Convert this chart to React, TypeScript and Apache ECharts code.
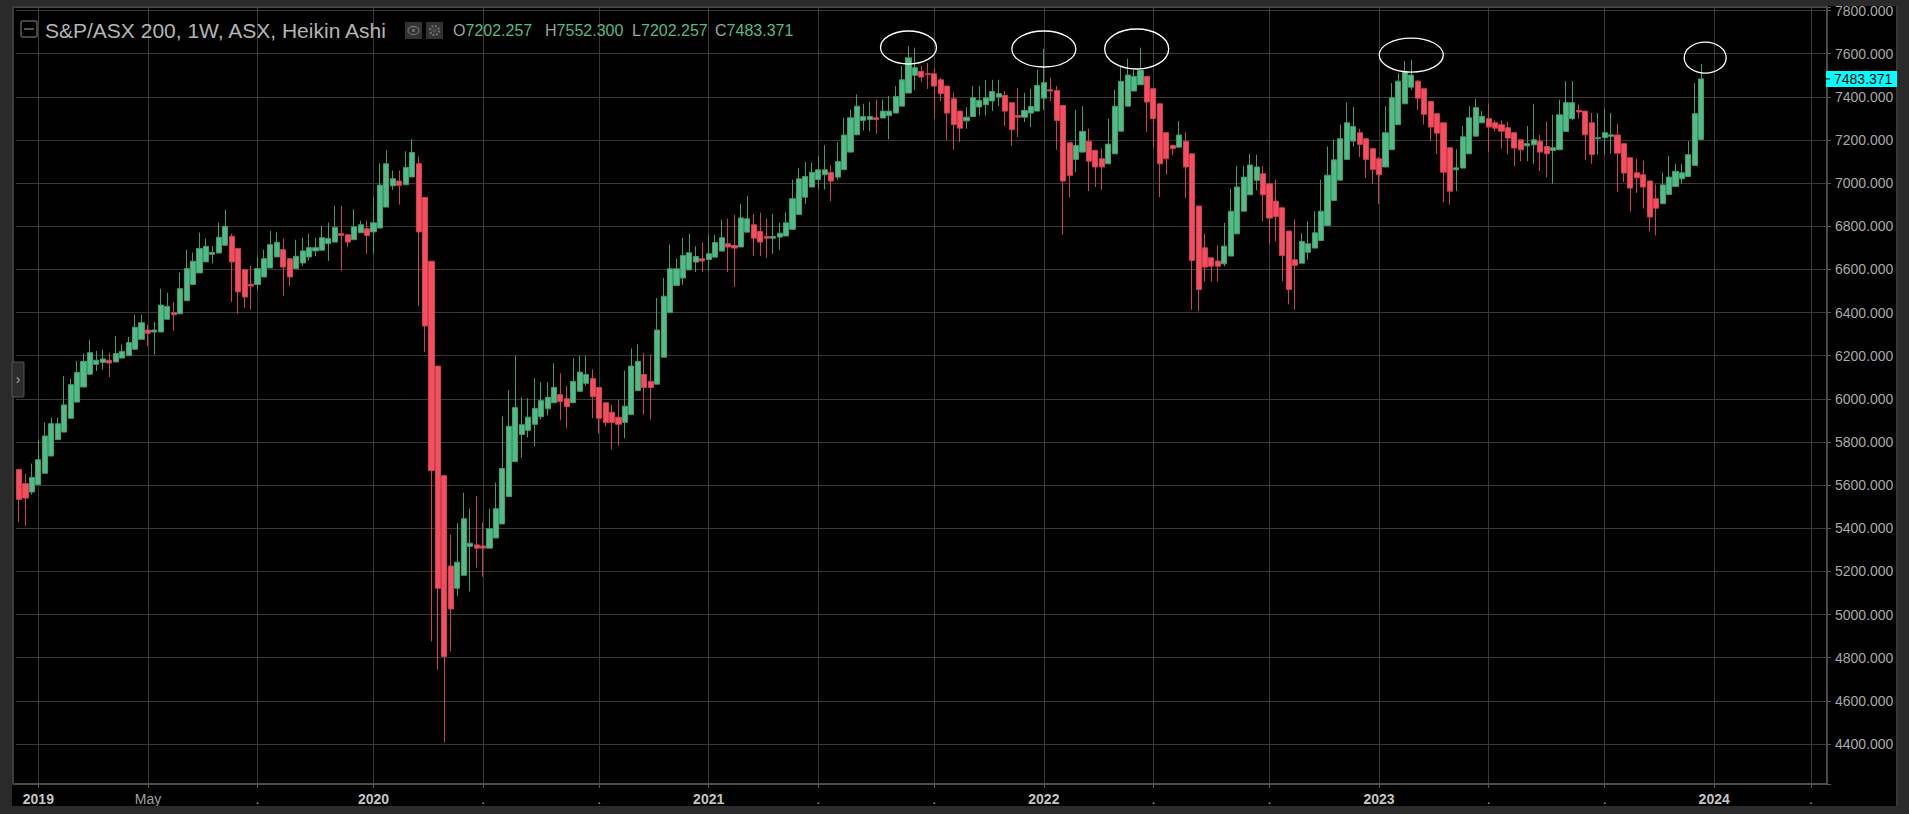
import React, { useEffect, useRef } from "react";
import * as echarts from "echarts";

// ---- categories: weekly bars (Monday dates), incl. empty future slots ----
const START_MS = Date.UTC(2018, 11, 17);
const SLOT_COUNT = 281;
const weekDates: string[] = Array.from({ length: SLOT_COUNT }, (_, i) =>
  new Date(START_MS + i * 7 * 86400000).toISOString().slice(0, 10)
);

// ---- x tick marks / labels ----
const xTickDates = [
  "2019-01-07", "2019-05-06", "2019-09-02", "2020-01-06", "2020-05-04", "2020-09-07",
  "2021-01-04", "2021-05-03", "2021-09-06", "2022-01-03", "2022-05-02", "2022-09-05",
  "2023-01-02", "2023-05-01", "2023-09-04", "2024-01-01", "2024-04-15",
];
const xTickLabels = [
  "2019", "May", ".", "2020", ".", ".", "2021", ".", ".", "2022", ".", ".",
  "2023", ".", ".", "2024", ".",
];

// ---- Heikin Ashi weekly OHLC ----
const opens = [
  5672, 5607, 5568, 5602, 5655, 5735, 5811, 5846, 5910, 5985,
  6055, 6114, 6160, 6169, 6179, 6171, 6189, 6200, 6230, 6276,
  6319, 6310, 6310, 6369, 6400, 6395, 6455, 6530, 6584, 6635,
  6670, 6676, 6712, 6754, 6697, 6599, 6531, 6530, 6565, 6607,
  6658, 6692, 6650, 6604, 6630, 6658, 6686, 6689, 6720, 6727,
  6766, 6761, 6738, 6770, 6789, 6774, 6792, 6889, 6988, 7010,
  6993, 7029, 7090, 6934, 6638, 6152, 5644, 5225, 5122, 5182,
  5316, 5323, 5318, 5308, 5355, 5420, 5547, 5709, 5835, 5854,
  5882, 5917, 5954, 5982, 6020, 6001, 5982, 6035, 6072, 6094,
  6053, 5982, 5938, 5915, 5891, 5928, 6038, 6113, 6081, 6068,
  6193, 6400, 6526, 6560, 6598, 6634, 6650, 6646, 6657, 6685,
  6719, 6711, 6704, 6773, 6807, 6776, 6753, 6745, 6750, 6755,
  6786, 6855, 6935, 6982, 7017, 7039, 7050, 7028, 7063, 7144,
  7224, 7291, 7295, 7303, 7302, 7313, 7325, 7357, 7418, 7500,
  7518, 7507, 7507, 7479, 7450, 7391, 7334, 7289, 7309, 7353,
  7364, 7381, 7399, 7407, 7373, 7314, 7306, 7325, 7334, 7394,
  7433, 7430, 7360, 7187, 7110, 7144, 7194, 7152, 7113, 7090,
  7136, 7241, 7357, 7427, 7456, 7495, 7438, 7368, 7234, 7175,
  7167, 7194, 7136, 6894, 6700, 6654, 6639, 6626, 6662, 6765,
  6870, 6946, 7013, 7044, 6997, 6917, 6886, 6778, 6645, 6629,
  6680, 6699, 6734, 6804, 6920, 7014, 7110, 7195, 7234, 7206,
  7160, 7113, 7075, 7155, 7271, 7368, 7445, 7473, 7438, 7379,
  7322, 7280, 7164, 7062, 7070, 7136, 7218, 7280, 7299, 7280,
  7271, 7257, 7234, 7201, 7173, 7178, 7194, 7170, 7152, 7155,
  7240, 7299, 7337, 7334, 7280, 7206, 7211, 7217, 7223, 7183,
  7118, 7048, 7039, 7010, 6928, 6905, 6948, 6985, 7020, 7031,
  7082, 7202.257,
];
const closes = [
  5534, 5540, 5636, 5718, 5828, 5885, 5885, 5972, 6066, 6123,
  6174, 6214, 6179, 6185, 6166, 6210, 6220, 6261, 6332, 6353,
  6304, 6319, 6435, 6429, 6390, 6511, 6604, 6638, 6697, 6707,
  6678, 6749, 6800, 6635, 6496, 6472, 6523, 6604, 6650, 6715,
  6726, 6611, 6565, 6661, 6686, 6701, 6701, 6747, 6743, 6794,
  6758, 6727, 6798, 6807, 6757, 6816, 6991, 7090, 7021, 6990,
  7073, 7142, 6774, 6338, 5668, 5122, 4806, 5026, 5243, 5444,
  5331, 5308, 5308, 5398, 5491, 5677, 5873, 5960, 5880, 5915,
  5956, 5992, 6007, 6053, 5988, 5964, 6081, 6124, 6113, 6010,
  5910, 5891, 5891, 5882, 5966, 6152, 6174, 6053, 6053, 6319,
  6476, 6603, 6603, 6665, 6677, 6660, 6639, 6673, 6725, 6747,
  6704, 6699, 6839, 6835, 6745, 6727, 6745, 6753, 6768, 6816,
  6928, 7020, 7031, 7050, 7062, 7062, 7010, 7101, 7223, 7303,
  7357, 7309, 7309, 7295, 7334, 7334, 7402, 7479, 7581, 7535,
  7492, 7503, 7450, 7415, 7325, 7271, 7255, 7306, 7396, 7384,
  7396, 7425, 7415, 7334, 7248, 7306, 7337, 7356, 7453, 7466,
  7427, 7291, 7010, 7036, 7175, 7240, 7102, 7075, 7075, 7181,
  7357, 7472, 7501, 7495, 7523, 7376, 7299, 7090, 7113, 7160,
  7223, 7075, 6642, 6507, 6611, 6615, 6615, 6708, 6870, 6982,
  7028, 7084, 7075, 6946, 6838, 6846, 6665, 6507, 6619, 6730,
  6719, 6770, 6870, 7037, 7108, 7206, 7280, 7263, 7180, 7110,
  7064, 7039, 7234, 7396, 7473, 7515, 7501, 7394, 7319, 7260,
  7232, 7051, 6963, 7071, 7215, 7303, 7350, 7309, 7260, 7255,
  7241, 7209, 7163, 7155, 7183, 7201, 7144, 7136, 7164, 7317,
  7373, 7373, 7330, 7224, 7133, 7211, 7234, 7224, 7139, 7047,
  6977, 7025, 6982, 6843, 6884, 6992, 7028, 7055, 7048, 7132,
  7322, 7483.371,
];
const lows = [
  5429, 5411, 5556, 5602, 5655, 5735, 5811, 5846, 5910, 5985,
  6055, 6114, 6129, 6135, 6101, 6171, 6189, 6200, 6230, 6276,
  6245, 6205, 6310, 6369, 6315, 6395, 6455, 6530, 6584, 6635,
  6627, 6676, 6712, 6449, 6395, 6421, 6414, 6506, 6565, 6607,
  6658, 6477, 6523, 6604, 6616, 6642, 6661, 6689, 6639, 6727,
  6593, 6705, 6738, 6770, 6673, 6673, 6792, 6889, 6969, 6900,
  6993, 7029, 6431, 6217, 4875, 4746, 4406, 4830, 5085, 5182,
  5107, 5215, 5175, 5308, 5355, 5420, 5547, 5709, 5727, 5821,
  5780, 5904, 5923, 5982, 5901, 5863, 5982, 6035, 6061, 5910,
  5839, 5873, 5765, 5783, 5817, 5928, 6038, 5927, 5904, 6068,
  6193, 6400, 6526, 6529, 6598, 6588, 6588, 6592, 6657, 6685,
  6588, 6519, 6704, 6773, 6662, 6662, 6653, 6673, 6691, 6755,
  6786, 6855, 6904, 6982, 6971, 6971, 6917, 7016, 7063, 7144,
  7224, 7244, 7241, 7229, 7302, 7204, 7325, 7357, 7418, 7433,
  7469, 7437, 7299, 7381, 7199, 7154, 7191, 7252, 7309, 7314,
  7314, 7334, 7357, 7265, 7172, 7214, 7283, 7260, 7334, 7340,
  7381, 7155, 6761, 6935, 7051, 7144, 6963, 6982, 6969, 7090,
  7136, 7241, 7357, 7427, 7456, 7237, 7167, 6935, 7039, 7129,
  7167, 6931, 6413, 6407, 6544, 6544, 6544, 6615, 6662, 6765,
  6870, 6946, 6966, 6823, 6719, 6730, 6546, 6438, 6413, 6629,
  6646, 6699, 6734, 6804, 6920, 7014, 7110, 7170, 7121, 7024,
  6997, 6904, 7075, 7155, 7271, 7368, 7433, 7340, 7272, 7195,
  7136, 6912, 6900, 6963, 7070, 7136, 7218, 7280, 7144, 7240,
  7160, 7133, 7079, 7101, 7102, 7090, 7056, 7028, 6997, 7155,
  7240, 7291, 7299, 7108, 7090, 7133, 7133, 7136, 6959, 7005,
  6870, 6955, 6882, 6778, 6758, 6905, 6948, 6985, 6997, 7031,
  7082, 7202.257,
];
const highs = [
  5672, 5653, 5700, 5811, 5890, 5913, 5913, 6106, 6094, 6176,
  6210, 6274, 6222, 6228, 6214, 6291, 6253, 6287, 6390, 6390,
  6344, 6356, 6511, 6492, 6448, 6585, 6692, 6678, 6771, 6743,
  6709, 6817, 6877, 6766, 6697, 6599, 6616, 6658, 6692, 6778,
  6772, 6743, 6650, 6738, 6747, 6766, 6747, 6802, 6817, 6894,
  6894, 6761, 6878, 6826, 6826, 6934, 7092, 7152, 7059, 7059,
  7148, 7204, 7124, 6934, 6638, 6152, 5644, 5370, 5424, 5565,
  5491, 5549, 5426, 5491, 5612, 5919, 6040, 6198, 6007, 6003,
  6096, 6077, 6077, 6165, 6118, 6059, 6189, 6198, 6198, 6137,
  6053, 5982, 5973, 5997, 6131, 6234, 6253, 6212, 6206, 6468,
  6561, 6716, 6650, 6747, 6766, 6707, 6724, 6761, 6761, 6830,
  6835, 6853, 6904, 6940, 6858, 6863, 6835, 6858, 6818, 6864,
  7016, 7070, 7098, 7095, 7125, 7176, 7083, 7189, 7303, 7340,
  7411, 7368, 7376, 7387, 7387, 7405, 7450, 7543, 7636, 7628,
  7543, 7558, 7535, 7489, 7450, 7419, 7334, 7352, 7450, 7450,
  7479, 7479, 7479, 7427, 7373, 7442, 7419, 7438, 7526, 7623,
  7489, 7450, 7360, 7187, 7340, 7357, 7252, 7152, 7160, 7299,
  7433, 7538, 7577, 7526, 7628, 7495, 7438, 7368, 7234, 7175,
  7288, 7234, 7136, 6894, 6765, 6654, 6711, 6816, 6974, 7079,
  7079, 7136, 7132, 7079, 6997, 7016, 6886, 6778, 6832, 6768,
  6823, 6870, 7016, 7170, 7201, 7271, 7373, 7353, 7252, 7206,
  7160, 7121, 7357, 7464, 7510, 7566, 7572, 7479, 7438, 7379,
  7322, 7280, 7164, 7156, 7265, 7357, 7391, 7334, 7368, 7291,
  7291, 7286, 7234, 7201, 7265, 7368, 7224, 7286, 7317, 7387,
  7473, 7473, 7364, 7334, 7325, 7325, 7345, 7325, 7275, 7183,
  7118, 7113, 7105, 7010, 6994, 7048, 7125, 7090, 7090, 7195,
  7464, 7552.3,
];

// ---- hand-drawn ellipse annotations (bar index, price) ----
const noteIdx = [138, 159, 173.4, 216, 261.6];
const notePrice = [7629, 7622, 7622, 7594, 7582];
const noteRx = [28, 32, 32, 32, 21];
const noteRy = [16.5, 18, 20, 17, 15.5];

const TITLE = "S&P/ASX 200, 1W, ASX, Heikin Ashi";
const UP = "#53b987";
const DOWN = "#f74d5e";
const FONT = "Liberation Sans, Arial, sans-serif";

export default function App() {
  const ref = useRef<HTMLDivElement>(null);
  useEffect(() => {
    document.body.style.margin = "0";
    document.body.style.background = "#000";
    const chart = echarts.init(ref.current!, null, { renderer: "svg" });
    const tickMap = new Map<string, string>(xTickDates.map((d, i) => [d, xTickLabels[i]]));
    const isTick = (_i: number, v: string) => tickMap.has(v);
    const data = opens.map((o, i) => [o, closes[i], lows[i], highs[i]]);
    const last = data.length - 1;

    chart.setOption({
      animation: false,
      backgroundColor: "#000",
      grid: { left: 15.8, right: 82, top: 7, bottom: 30, show: false },
      xAxis: {
        type: "category",
        data: weekDates,
        boundaryGap: true,
        axisLine: { show: true, lineStyle: { color: "#4f4f4f", width: 2 } },
        axisTick: { show: true, interval: isTick, alignWithLabel: true, length: 4, lineStyle: { color: "#5a5a5a" } },
        axisLabel: {
          interval: isTick,
          margin: 8,
          formatter: (v: string) => {
            const l = tickMap.get(v) || "";
            return /^\d{4}$/.test(l) ? `{y|${l}}` : `{m|${l}}`;
          },
          rich: {
            y: { color: "#c4c4c4", fontSize: 14, fontWeight: "bold", fontFamily: FONT },
            m: { color: "#a0a0a0", fontSize: 14, fontFamily: FONT },
          },
        },
        splitLine: { show: true, interval: isTick, alignWithLabel: true, lineStyle: { color: "#383838", width: 1 } },
      },
      yAxis: {
        type: "value",
        position: "right",
        min: 4214.5,
        max: 7816.7,
        splitNumber: 18,
        axisLine: { show: true, lineStyle: { color: "#4f4f4f", width: 1.5 } },
        axisTick: { show: true, length: 4, lineStyle: { color: "#5a5a5a" } },
        axisLabel: {
          margin: 8,
          color: "#a8a8a8",
          fontSize: 14,
          fontFamily: FONT,
          formatter: (v: number) => (Math.abs(v / 200 - Math.round(v / 200)) < 1e-6 ? v.toFixed(3) : ""),
        },
        splitLine: { show: true, lineStyle: { color: "#383838", width: 1 } },
      },
      series: [
        {
          type: "candlestick",
          data,
          barWidth: 5.6,
          itemStyle: {
            color: UP,
            color0: DOWN,
            borderColor: "#3f9c6d",
            borderColor0: "#cc4150",
            borderWidth: 1,
          },
        },
      ],
    });

    const px = (idx: number, price: number) => {
      const i0 = Math.floor(idx);
      const f = idx - i0;
      const a = chart.convertToPixel({ gridIndex: 0 }, [i0, price]) as number[];
      const b = chart.convertToPixel({ gridIndex: 0 }, [i0 + 1, price]) as number[];
      return [a[0] + f * (b[0] - a[0]), a[1]];
    };

    const ellipses = noteIdx.map((ix, k) => {
      const [cx, cy] = px(ix, notePrice[k]);
      return {
        type: "ellipse",
        shape: { cx, cy, rx: noteRx[k], ry: noteRy[k] },
        style: { fill: "none", stroke: "#ffffff", lineWidth: 1.3 },
        z: 50,
      };
    });
    const priceY = (chart.convertToPixel({ yAxisIndex: 0 }, closes[last]) as number);
    const fmt = (v: number) => v.toFixed(3);

    // legend O/H/L/C items (letter + value), laid out left to right
    const ohlc = [
      { k: "O", v: opens[last], x: 453, w: 12.5 },
      { k: "H", v: highs[last], x: 545, w: 11.6 },
      { k: "L", v: lows[last], x: 632, w: 9 },
      { k: "C", v: closes[last], x: 715, w: 11.6 },
    ];
    const ohlcTexts = ohlc.flatMap((it) => [
      { type: "text", x: it.x, y: 30, z: 41, style: { text: it.k, fill: "#a0a0a0", font: `16px ${FONT}`, verticalAlign: "middle" } },
      { type: "text", x: it.x + it.w, y: 30, z: 41, style: { text: fmt(it.v), fill: UP, font: `16px ${FONT}`, verticalAlign: "middle" } },
    ]);

    chart.setOption({
      graphic: [
        // outer frame strips
        { type: "rect", shape: { x: 0, y: 0, width: 1909, height: 6 }, style: { fill: "#2a2a2a" }, z: 40 },
        { type: "rect", shape: { x: 0, y: 0, width: 12, height: 814 }, style: { fill: "#2a2a2a" }, z: 40 },
        { type: "rect", shape: { x: 1898, y: 0, width: 11, height: 814 }, style: { fill: "#2a2a2a" }, z: 40 },
        { type: "rect", shape: { x: 0, y: 806, width: 1909, height: 8 }, style: { fill: "#2a2a2a" }, z: 40 },
        { type: "line", shape: { x1: 1897, y1: 6, x2: 1897, y2: 806 }, style: { stroke: "#4a4a4a", lineWidth: 1.5 }, z: 40 },
        // plot frame
        { type: "rect", shape: { x: 13, y: 7, width: 1814, height: 777 }, style: { fill: "none", stroke: "#4f4f4f", lineWidth: 1.5 }, z: 30 },
        // left collapse tab
        { type: "rect", shape: { x: 12, y: 362, width: 12, height: 35, r: 1 }, style: { fill: "#2c2c2c", stroke: "#555", lineWidth: 1 }, z: 41 },
        { type: "text", x: 18, y: 379, style: { text: "›", fill: "#aaa", font: `14px ${FONT}`, align: "center", verticalAlign: "middle" }, z: 42 },
        // legend: collapse box
        { type: "rect", shape: { x: 21, y: 21, width: 16, height: 16, r: 1 }, style: { fill: "none", stroke: "#8a8a8a", lineWidth: 1 }, z: 41 },
        { type: "line", shape: { x1: 24, y1: 29, x2: 34, y2: 29 }, style: { stroke: "#8a8a8a", lineWidth: 1.2 }, z: 41 },
        // title
        { type: "text", x: 45, y: 30, style: { text: TITLE, fill: "#b4b4b4", font: `21px ${FONT}`, verticalAlign: "middle" }, z: 41 },
        // eye / gear boxes
        { type: "rect", shape: { x: 405, y: 22, width: 17, height: 17 }, style: { fill: "#333" }, z: 41 },
        { type: "ellipse", shape: { cx: 413.5, cy: 30.5, rx: 5.5, ry: 4 }, style: { fill: "none", stroke: "#6e6e6e", lineWidth: 1.3 }, z: 42 },
        { type: "circle", shape: { cx: 413.5, cy: 30.5, r: 1.6 }, style: { fill: "#6e6e6e" }, z: 42 },
        { type: "rect", shape: { x: 426, y: 22, width: 17, height: 17 }, style: { fill: "#333" }, z: 41 },
        { type: "circle", shape: { cx: 434.5, cy: 30.5, r: 4.5 }, style: { fill: "none", stroke: "#6e6e6e", lineWidth: 2.2, lineDash: [2, 1.5] }, z: 42 },
        { type: "circle", shape: { cx: 434.5, cy: 30.5, r: 1.5 }, style: { fill: "#333", stroke: "#6e6e6e", lineWidth: 1 }, z: 42 },
        ...ohlcTexts,
        // last-price label
        { type: "rect", shape: { x: 1826, y: priceY - 8, width: 71, height: 16 }, style: { fill: "#00ffff" }, z: 45 },
        { type: "line", shape: { x1: 1826, y1: priceY, x2: 1830, y2: priceY }, style: { stroke: "#000", lineWidth: 1 }, z: 46 },
        { type: "text", x: 1834, y: priceY, style: { text: fmt(closes[last]), fill: "#000", font: `14px ${FONT}`, verticalAlign: "middle" }, z: 46 },
        ...ellipses,
      ],
    });

    return () => chart.dispose();
  }, []);
  return <div ref={ref} style={{ width: 1909, height: 814 }} />;
}
